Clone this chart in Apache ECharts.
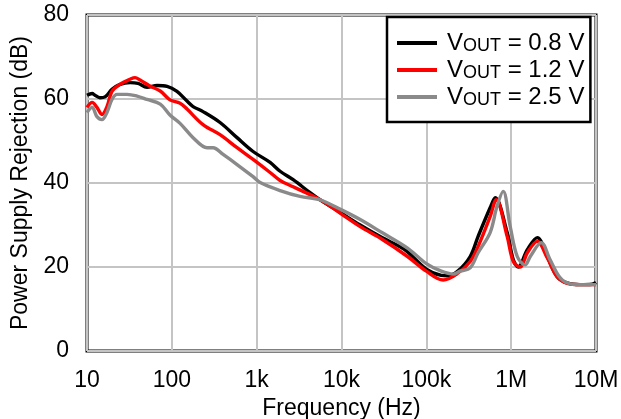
<!DOCTYPE html>
<html>
<head>
<meta charset="utf-8">
<script src="https://cdn.jsdelivr.net/npm/echarts@6/dist/echarts.min.js"></script>
<style>
  html, body { margin: 0; padding: 0; background: #fff; }
  #chart { width: 621px; height: 419px; }
</style>
</head>
<body>
<div id="chart"></div>
<script>
// PSRR vs frequency for three output voltages
const freq08 = [10, 11.5, 12.4, 14.2, 16.3, 19.7, 24.5, 32.2, 39.9, 51, 67, 88, 115, 151, 178, 233, 370, 587, 907, 1440, 1890, 2690, 4260, 5600, 10000, 16600, 30000, 55000, 100000, 150000, 176000, 231000, 329000, 408000, 565000, 648000, 897000, 1060000, 1210000, 1550000, 2030000, 2660000, 3490000, 4570000, 6500000, 9000000, 10000000];
const psrr08 = [60.9, 61.3, 60.9, 60.3, 60.5, 62.3, 63.5, 63.9, 63.7, 62.8, 63.2, 63.0, 61.8, 59.5, 58.2, 57.0, 54.4, 50.8, 47.5, 44.9, 42.8, 40.8, 37.7, 36.0, 32.8, 30.0, 27.0, 24.2, 19.5, 18.0, 17.9, 18.9, 22.5, 27.3, 34.1, 36.5, 28.2, 21.7, 20.0, 24.1, 27.0, 22.5, 17.7, 16.2, 15.8, 15.9, 16.3];

const freq12 = [10, 11.5, 13.1, 15.0, 17.2, 19.7, 24.5, 32.2, 36.8, 42.2, 55, 73, 95, 125, 151, 233, 370, 587, 907, 1440, 1890, 2690, 5600, 10000, 16600, 30000, 60000, 100000, 158000, 231000, 329000, 408000, 565000, 666000, 897000, 1060000, 1280000, 1550000, 2030000, 2660000, 3490000, 4570000, 6500000, 10000000];
const psrr12 = [58.0, 59.2, 58.0, 56.3, 58.2, 61.8, 63.5, 64.7, 65.1, 64.5, 63.1, 61.9, 59.8, 59.0, 57.6, 53.9, 51.5, 48.4, 45.6, 42.5, 40.6, 39.1, 36.0, 32.6, 29.6, 26.6, 22.5, 19.0, 16.9, 18.4, 21.3, 24.9, 32.0, 36.0, 27.3, 21.3, 20.0, 23.4, 26.1, 22.2, 17.6, 16.1, 15.8, 15.8];

const freq25 = [10, 11.5, 13.1, 15.0, 17.2, 19.7, 22.6, 29.6, 38.9, 51, 73, 95, 125, 178, 260, 306, 402, 587, 907, 1100, 1890, 3250, 5600, 10000, 16600, 30000, 60000, 100000, 150000, 207000, 250000, 329000, 408000, 565000, 680000, 805000, 973000, 1180000, 1460000, 1680000, 2260000, 2880000, 3790000, 4970000, 7000000, 10000000];
const psrr25 = [56.8, 58.0, 55.8, 55.1, 56.8, 59.9, 61.1, 61.1, 60.7, 59.9, 58.8, 56.2, 54.2, 50.8, 48.4, 48.4, 46.8, 44.4, 41.5, 40.1, 38.2, 36.8, 36.0, 33.6, 31.3, 28.2, 24.5, 20.8, 19.0, 18.3, 19.0, 19.8, 23.4, 28.2, 34.4, 38.0, 29.7, 22.5, 20.5, 22.5, 25.8, 21.7, 17.4, 16.0, 15.8, 15.8];

const seriesNames = ['0.8', '1.2', '2.5'];
const seriesColors = ['#000000', '#ff0000', '#8a8a8a'];
const xTickLabels = { 10: '10', 100: '100', 1000: '1k', 10000: '10k', 100000: '100k', 1000000: '1M', 10000000: '10M' };

const FONT = 'Liberation Sans, Arial, sans-serif';

function pairs(f, v) { return f.map((x, i) => [x, v[i]]); }
const curves = [pairs(freq08, psrr08), pairs(freq12, psrr12), pairs(freq25, psrr25)];

const chart = echarts.init(document.getElementById('chart'), null, { renderer: 'canvas' });

chart.setOption({
  animation: false,
  backgroundColor: '#fff',
  textStyle: { fontFamily: FONT },
  grid: {
    left: 87, top: 15, right: 25, bottom: 68,
    outerBoundsMode: 'none', containLabel: false,
    show: true, borderColor: '#000', borderWidth: 3, backgroundColor: 'transparent'
  },
  legend: {
    orient: 'vertical',
    left: 387, top: 17,
    padding: [14, 6, 13, 10],
    itemGap: 3,
    itemWidth: 40, itemHeight: 4,
    icon: 'rect',
    backgroundColor: '#fff',
    borderColor: '#000', borderWidth: 2.5, borderRadius: 0,
    data: seriesNames,
    formatter: name => '{v|V}{s|OUT}{v| = ' + name + ' V}',
    textStyle: {
      color: '#000', padding: [0, 0, 0, 5],
      rich: {
        v: { fontSize: 24, lineHeight: 24, fontFamily: FONT, color: '#000' },
        s: { fontSize: 18, lineHeight: 19, fontFamily: FONT, color: '#000', verticalAlign: 'bottom' }
      }
    }
  },
  xAxis: {
    type: 'log', logBase: 10, min: 10, max: 10000000,
    name: 'Frequency (Hz)', nameLocation: 'middle', nameGap: 41,
    nameTextStyle: { fontSize: 23, color: '#000', fontFamily: FONT },
    axisLine: { show: false },
    axisTick: { show: false },
    axisLabel: {
      margin: 18, fontSize: 23, color: '#000', fontFamily: FONT,
      formatter: v => xTickLabels[Math.round(v)] || ''
    },
    splitLine: { show: true, lineStyle: { color: '#c4c4c4', width: 2 } },
    minorSplitLine: { show: false }
  },
  yAxis: {
    type: 'value', min: 0, max: 80, interval: 20,
    name: 'Power Supply Rejection (dB)', nameLocation: 'middle', nameGap: 54,
    nameTextStyle: { fontSize: 23, color: '#000', fontFamily: FONT },
    axisLine: { show: false },
    axisTick: { show: false },
    axisLabel: { margin: 18, fontSize: 23, color: '#000', fontFamily: FONT },
    splitLine: { show: true, lineStyle: { color: '#c4c4c4', width: 2 } }
  },
  series: seriesNames.map((n, i) => ({
    name: n,
    type: 'line',
    data: curves[i],
    smooth: 0.35,
    showSymbol: false,
    symbol: 'none',
    clip: true,
    lineStyle: { color: seriesColors[i], width: 3.4 },
    itemStyle: { color: seriesColors[i] },
    z: 2 + i
  }))
});
</script>
</body>
</html>
